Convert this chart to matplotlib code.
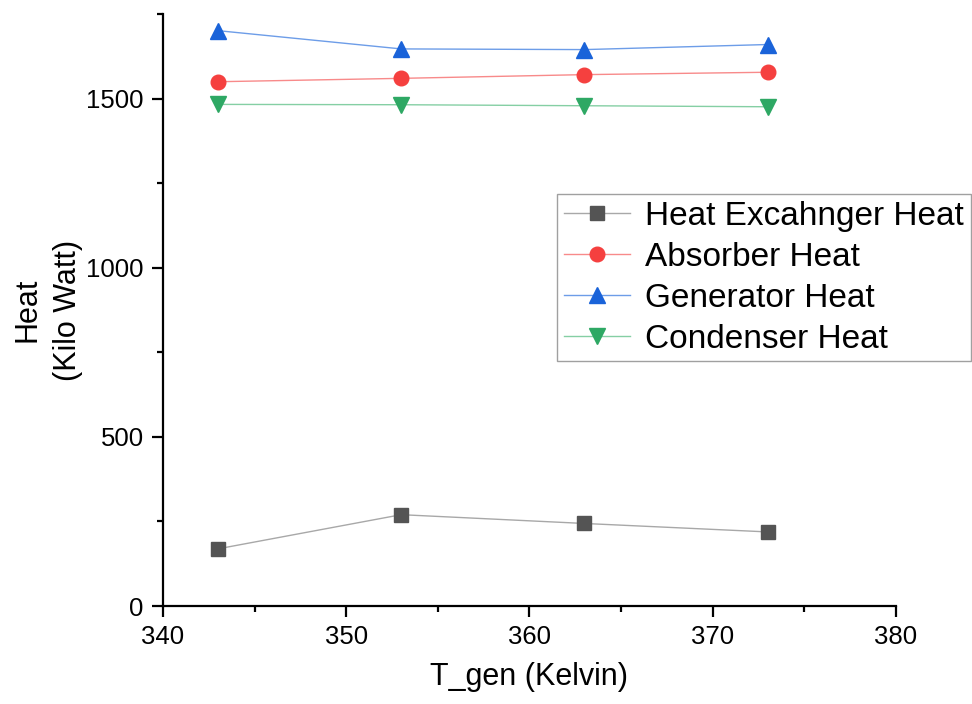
import matplotlib
matplotlib.use("Agg")
import matplotlib.pyplot as plt
from matplotlib.ticker import MultipleLocator

plt.rcParams['font.family'] = ['Liberation Sans', 'DejaVu Sans']

t_gen = [343, 353, 363, 373]
hx_heat = [169, 270, 244, 219]
absorber_heat = [1550, 1560, 1571, 1578]
generator_heat = [1701, 1647, 1645, 1660]
condenser_heat = [1483, 1482, 1479, 1476]

series = [
    ("Heat Excahnger Heat", hx_heat, 's', '#545454', '#a8a8a8', 9.5),
    ("Absorber Heat", absorber_heat, 'o', '#f5403f', '#f88a8a', 10.5),
    ("Generator Heat", generator_heat, '^', '#1a63d9', '#6d9de8', 12),
    ("Condenser Heat", condenser_heat, 'v', '#2ea864', '#85cfa4', 12),
]

fig = plt.figure(figsize=(9.72, 7.04), dpi=100)
ax = fig.add_axes([0.1677, 0.1392, 0.7541, 0.8408])

for label, vals, mk, mc, lc, ms in series:
    ax.plot(t_gen, vals, color=lc, lw=1.0, marker=mk, markersize=ms,
            markerfacecolor=mc, markeredgecolor=mc, label=label)

ax.set_xlim(340, 380)
ax.set_ylim(0, 1750)
ax.xaxis.set_major_locator(MultipleLocator(10))
ax.xaxis.set_minor_locator(MultipleLocator(5))
ax.yaxis.set_major_locator(MultipleLocator(500))
ax.yaxis.set_minor_locator(MultipleLocator(250))
for s in ['top', 'right']:
    ax.spines[s].set_visible(False)
for s in ['left', 'bottom']:
    ax.spines[s].set_linewidth(1.6)
ax.tick_params(which='major', direction='out', length=8, width=1.6, labelsize=18.5, pad=6)
ax.tick_params(which='minor', direction='out', length=4, width=1.6)

ax.set_xlabel("T_gen (Kelvin)", fontsize=22, labelpad=9)
ax.set_ylabel("Heat\n(Kilo Watt)", fontsize=22, labelpad=2, linespacing=1.45)

leg = ax.legend(loc='upper left', bbox_to_anchor=(0.5375, 0.696), fontsize=24,
                frameon=True, fancybox=False, edgecolor='#888888',
                handlelength=2.0, handletextpad=0.45, labelspacing=0.30,
                borderpad=0.2, borderaxespad=0)
leg.get_frame().set_linewidth(1.0)

fig.savefig("out.png", dpi=100)
